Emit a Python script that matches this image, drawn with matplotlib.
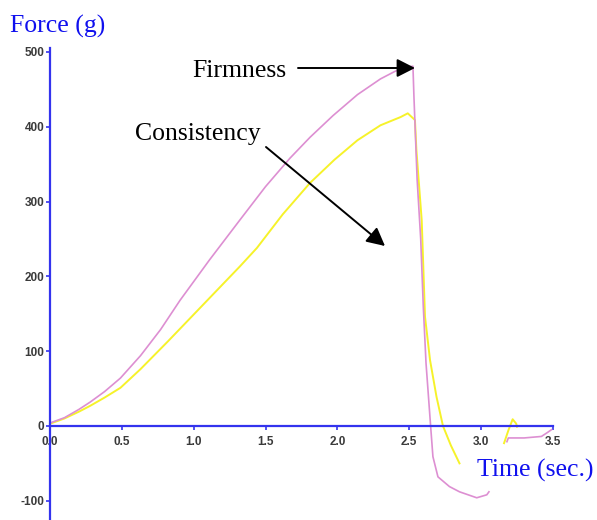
import matplotlib
matplotlib.use("Agg")
import matplotlib.pyplot as plt

# firmness curve (pink), main stroke
firm_t = [0.0, 0.1, 0.2, 0.28, 0.38, 0.49, 0.63, 0.77, 0.905, 1.11, 1.32, 1.50,
          1.67, 1.81, 1.97, 2.14, 2.30, 2.40, 2.46, 2.526, 2.533, 2.555, 2.58,
          2.598, 2.617, 2.649, 2.665, 2.70, 2.78, 2.85, 2.97, 3.04, 3.055]
firm_v = [4, 11, 22, 32, 46, 64, 94, 129, 168, 222, 275, 320,
          358, 386, 415, 443, 464, 474, 479, 481, 440, 330, 250,
          160, 84, 0, -41, -68, -81, -88, -96, -92, -88]
# firmness tail after the probe returns
firm_t2 = [3.18, 3.19, 3.30, 3.42, 3.46, 3.49]
firm_v2 = [-21, -16, -16, -14, -9, -5]

# consistency curve (yellow)
cons_t = [0.0, 0.1, 0.2, 0.28, 0.38, 0.49, 0.63, 0.82, 1.02, 1.18, 1.32, 1.44,
          1.62, 1.81, 1.98, 2.14, 2.30, 2.44, 2.49, 2.54, 2.55, 2.587, 2.61,
          2.645, 2.69, 2.735, 2.79, 2.85]
cons_v = [3, 10, 19, 27, 38, 51, 76, 113, 153, 185, 213, 238,
          283, 325, 356, 382, 402, 413, 418, 409, 369, 275, 146,
          88, 39, 0, -26, -50]
cons_t2 = [3.16, 3.19, 3.22, 3.245, 3.25]
cons_v2 = [-23, -6, 9, 3, -1]

xticks = [0.0, 0.5, 1.0, 1.5, 2.0, 2.5, 3.0, 3.5]
yticks = [-100, 0, 100, 200, 300, 400, 500]

W, H = 597, 520
fig = plt.figure(figsize=(W / 100, H / 100), dpi=100)
ax = fig.add_axes([0, 0, 1, 1])
ax.set_xlim(-0.348, 3.807)
ax.set_ylim(-125.7, 569.5)

pink = '#dd8fd2'
yellow = '#f6f22a'
blue = '#3333ee'

ax.plot(cons_t, cons_v, color=yellow, lw=1.4)
ax.plot(cons_t2, cons_v2, color=yellow, lw=1.4)
ax.plot(firm_t, firm_v, color=pink, lw=1.2)
ax.plot(firm_t2, firm_v2, color=pink, lw=1.2)

for s in ['top', 'right']:
    ax.spines[s].set_visible(False)
ax.spines['left'].set_position(('data', 0))
ax.spines['bottom'].set_position(('data', 0))
ax.spines['left'].set_bounds(-130, 505)
ax.spines['bottom'].set_bounds(0, 3.5)
for s in ['left', 'bottom']:
    ax.spines[s].set_color(blue)
    ax.spines[s].set_linewidth(1.6)

ax.set_xticks(xticks)
ax.set_xticklabels(['%.1f' % x for x in xticks])
ax.set_yticks(yticks)
ax.set_yticklabels([str(y) for y in yticks])
ax.tick_params(axis='both', colors=blue, length=3, width=1.2, direction='out',
               labelcolor='#3a3a3a', labelsize=8.5)
ax.tick_params(axis='x', pad=4)
ax.tick_params(axis='y', pad=1)
for lab in ax.get_xticklabels() + ax.get_yticklabels():
    lab.set_fontfamily('Liberation Sans')
    lab.set_fontweight('bold')

serif = 'Liberation Serif'
fs = 18.5
fig.text(10 / W, 1 - 33 / H, 'Force (g)', color='#1010ee', family=serif,
         fontsize=fs, va='baseline', ha='left')
fig.text(477 / W, 1 - 477 / H, 'Time (sec.)', color='#1010ee', family=serif,
         fontsize=fs, va='baseline', ha='left')
fig.text(192 / W, 1 - 77 / H, 'Firmness', color='black', family=serif,
         fontsize=fs, va='baseline', ha='left')
fig.text(135 / W, 1 - 140 / H, 'Consistency', color='black', family=serif,
         fontsize=fs, va='baseline', ha='left')

arrow = dict(arrowstyle='-|>,head_length=0.55,head_width=0.28',
             color='black', lw=1.4, mutation_scale=20, shrinkA=0, shrinkB=0)
ax.annotate('', xy=(415, H - 68), xycoords='figure pixels',
            xytext=(298, H - 68), textcoords='figure pixels', arrowprops=arrow)
ax.annotate('', xy=(385, H - 246), xycoords='figure pixels',
            xytext=(266, H - 147), textcoords='figure pixels', arrowprops=arrow)

fig.savefig('out.png', dpi=100)
